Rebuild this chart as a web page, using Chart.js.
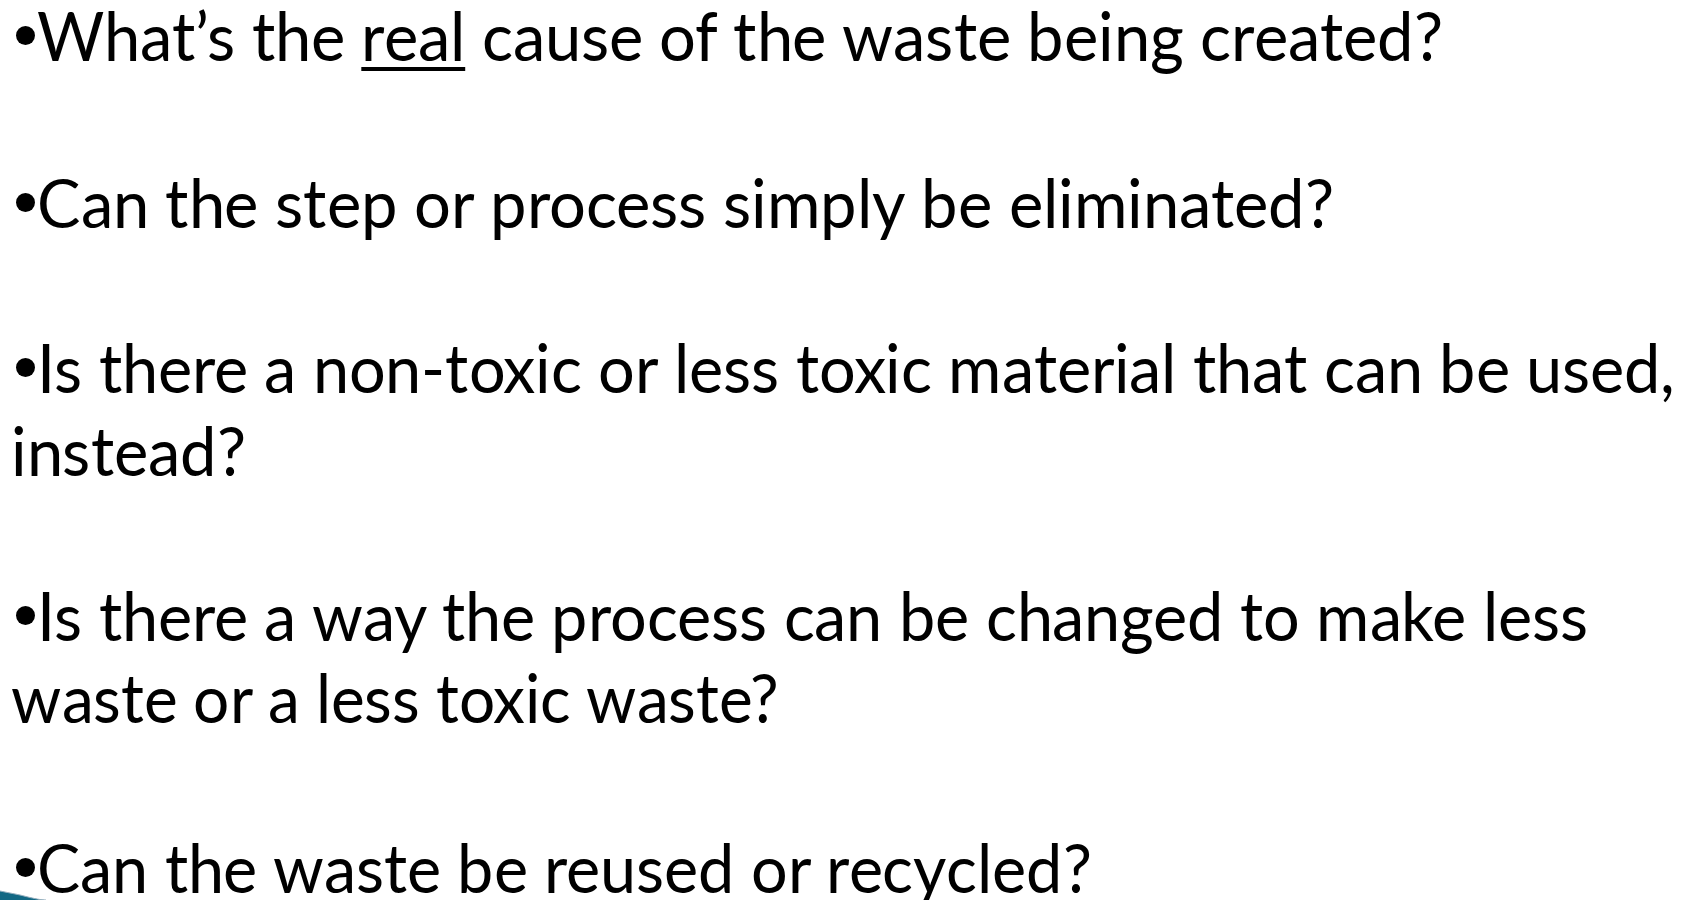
<!DOCTYPE html>
<html>
<head>
<meta charset="utf-8">
<script src="https://cdn.jsdelivr.net/npm/chart.js"></script>
<style>
@font-face {
    font-family: "SlideSans";
    src: local("Lato"), local("Lato Regular"), local("Lato-Regular");
    ascent-override: 88%;
    descent-override: 10%;
    line-gap-override: 0%;
}
html, body { margin: 0; padding: 0; background: #fff; width: 1692px; height: 900px; overflow: hidden; }
#slide { position: relative; width: 1692px; height: 900px; overflow: hidden; font-family: "SlideSans", Lato, "Open Sans", sans-serif; color: #000; }
.line { position: absolute; left: 12px; top: 0; white-space: nowrap; font-size: 67px; line-height: 0.98; transform-origin: 0 0; }
.dot { position: absolute; left: 16px; width: 19px; height: 19px; border-radius: 50%; background: #000; }
.u { text-decoration: underline; text-decoration-thickness: 4px; text-underline-offset: 6px; }
.base { display: inline-block; width: 0; height: 0; vertical-align: baseline; }
#corner { position: absolute; left: 0; top: 880px; width: 80px; height: 20px; }
</style>
</head>
<body>
<div id="slide">
  <canvas id="corner" width="80" height="20"></canvas>
</div>
<script>
// slide text, one entry per printed line
const lines = [
    { bullet: true,  html: 'What’s the <span class="u">real</span> cause of the waste being created?' },
    { bullet: true,  html: 'Can the step or process simply be eliminated?' },
    { bullet: true,  html: 'Is there a non-toxic or less toxic material that can be used,' },
    { bullet: false, html: 'instead?' },
    { bullet: true,  html: 'Is there a way the process can be changed to make less' },
    { bullet: false, html: 'waste or a less toxic waste?' },
    { bullet: true,  html: 'Can the waste be reused or recycled?' }
];

// where each line sits: baseline y and right edge x
const baselines = [61, 228, 393, 476, 641, 723, 893];
const rightEdges = [1443, 1334, 1675, 246, 1588, 779, 1092];

// corner swoosh outline (canvas pixels from its top)
const swooshX = [0, 10, 20, 30, 40, 46];
const swooshTop = [11, 13, 15, 17.5, 19.5, 20];
const swooshBottom = [20, 20, 20, 20, 20, 20];

const slide = document.getElementById('slide');
lines.forEach((item, i) => {
    const left = item.bullet ? 37 : 11;
    const div = document.createElement('div');
    div.className = 'line';
    div.style.left = left + 'px';
    div.innerHTML = item.html + '<span class="base"></span>';
    slide.appendChild(div);
    const baseOffset = div.querySelector('.base').offsetTop;
    const natural = div.getBoundingClientRect().width;
    const sx = (rightEdges[i] - left) / natural;
    div.style.top = (baselines[i] - baseOffset) + 'px';
    div.style.transform = 'scaleX(' + sx.toFixed(4) + ')';
    if (item.bullet) {
        const dot = document.createElement('div');
        dot.className = 'dot';
        dot.style.top = (baselines[i] - 26 - 9.5) + 'px';
        slide.appendChild(dot);
    }
});

function renderCorner() {
    const ctx = document.getElementById('corner').getContext('2d');
    const pts = arr => arr.map((y, i) => ({ x: swooshX[i], y: y }));
    new Chart(ctx, {
        type: 'line',
        data: {
            datasets: [
                {
                    data: pts(swooshTop),
                    borderColor: 'rgb(150, 175, 190)',
                    backgroundColor: 'rgb(18, 104, 132)',
                    borderWidth: 1,
                    fill: '+1',
                    tension: 0.4,
                    pointRadius: 0
                },
                {
                    data: pts(swooshBottom),
                    borderWidth: 0,
                    pointRadius: 0
                }
            ]
        },
        options: {
            responsive: false,
            animation: false,
            events: [],
            layout: { padding: 0 },
            plugins: { legend: { display: false }, tooltip: { enabled: false } },
            scales: {
                x: { type: 'linear', display: false, min: 0, max: 80 },
                y: { display: false, min: 0, max: 20, reverse: true }
            }
        }
    });
}

renderCorner();
</script>
</body>
</html>
